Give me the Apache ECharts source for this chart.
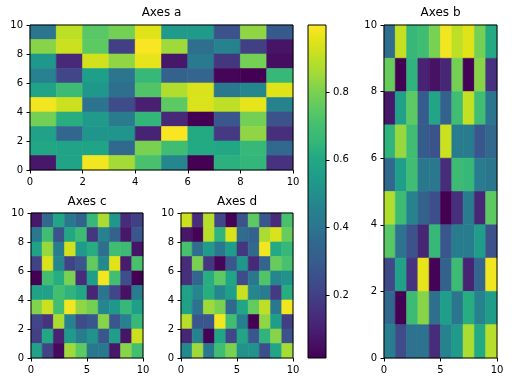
<!DOCTYPE html>
<html>
<head>
<meta charset="utf-8">
<script src="https://cdn.jsdelivr.net/npm/echarts@6/dist/echarts.min.js"></script>
<style>html,body{margin:0;padding:0;background:#fff}#c{width:512px;height:384px}</style>
</head>
<body>
<div id="c"></div>
<script>
// Rows listed from top (y=9) to bottom (y=0)
const dataA = [
  [0.40,0.90,0.74,0.79,0.95,0.54,0.54,0.26,0.83,0.29],
  [0.82,0.92,0.75,0.20,0.99,0.85,0.38,0.46,0.20,0.07],
  [0.53,0.13,0.93,0.83,0.96,0.08,0.42,0.17,0.79,0.05],
  [0.45,0.22,0.56,0.40,0.66,0.33,0.34,0.03,0.01,0.66],
  [0.58,0.68,0.53,0.38,0.73,0.88,0.94,0.41,0.47,0.95],
  [0.98,0.92,0.39,0.24,0.10,0.75,0.94,0.90,0.96,0.46],
  [0.79,0.62,0.54,0.43,0.65,0.13,0.01,0.28,0.79,0.26],
  [0.57,0.35,0.52,0.52,0.11,0.99,0.61,0.18,0.83,0.15],
  [0.60,0.58,0.58,0.36,0.80,0.69,0.61,0.60,0.66,0.36],
  [0.08,0.58,0.98,0.86,0.71,0.47,0.01,0.63,0.65,0.16]
];
const dataB = [
  [0.37,0.91,0.66,0.69,0.80,0.98,0.90,0.95,0.79,0.61],
  [0.77,0.01,0.64,0.11,0.06,0.12,0.79,0.02,0.82,0.16],
  [0.08,0.57,0.75,0.30,0.59,0.32,0.69,0.91,0.69,0.40],
  [0.64,0.84,0.69,0.30,0.26,0.92,0.43,0.43,0.28,0.36],
  [0.36,0.56,0.69,0.41,0.41,0.14,0.68,0.66,0.43,0.40],
  [0.88,0.68,0.46,0.33,0.25,0.01,0.15,0.43,0.12,0.75],
  [0.74,0.39,0.26,0.12,0.66,0.28,0.43,0.43,0.55,0.26],
  [0.23,0.57,0.16,0.96,0.02,0.33,0.68,0.11,0.34,0.98],
  [0.36,0.01,0.68,0.82,0.38,0.56,0.40,0.62,0.46,0.55],
  [0.44,0.24,0.39,0.39,0.14,0.46,0.54,0.87,0.61,0.89]
];
const dataC = [
  [0.08,0.36,0.59,0.41,0.33,0.66,0.87,0.53,0.14,0.20],
  [0.41,0.69,0.26,0.60,0.68,0.17,0.46,0.33,0.08,0.28],
  [0.57,0.84,0.43,0.93,0.54,0.62,0.38,0.69,0.68,0.07],
  [0.21,0.94,0.47,0.21,0.28,0.76,0.48,0.95,0.09,0.71],
  [0.01,0.70,0.62,0.80,0.14,0.56,0.98,0.70,0.25,0.01],
  [0.57,0.57,0.70,0.64,0.60,0.12,0.40,0.22,0.06,0.43],
  [0.81,0.92,0.70,0.98,0.83,0.79,0.47,0.53,0.66,0.56],
  [0.22,0.16,0.87,0.46,0.24,0.28,0.82,0.28,0.45,0.66],
  [0.20,0.60,0.11,0.54,0.43,0.51,0.28,0.56,0.07,0.92],
  [0.57,0.21,0.04,0.85,0.75,0.41,0.41,0.08,0.82,0.70]
];
const dataD = [
  [0.92,0.14,0.89,0.22,0.02,0.26,0.75,0.28,0.14,0.71],
  [0.08,0.02,0.89,0.64,0.94,0.37,0.32,0.87,0.94,0.77],
  [0.71,0.38,0.54,0.41,0.55,0.17,0.36,0.98,0.61,0.66],
  [0.14,0.80,0.17,0.03,0.28,0.53,0.13,0.34,0.77,0.71],
  [0.15,0.34,0.62,0.75,0.59,0.24,0.41,0.73,0.47,0.51],
  [0.57,0.47,0.62,0.47,0.56,0.92,0.47,0.43,0.18,0.62],
  [0.57,0.39,0.85,0.80,0.36,0.59,0.76,0.90,0.41,0.98],
  [0.89,0.28,0.28,0.98,0.69,0.44,0.01,0.83,0.55,0.20],
  [0.12,0.46,0.02,0.59,0.22,0.59,0.28,0.64,0.82,0.26],
  [0.48,0.85,0.41,0.69,0.80,0.51,0.51,0.25,0.59,0.86]
];
const titles = ['Axes a', 'Axes b', 'Axes c', 'Axes d'];
const cbMin = 0.015, cbMax = 0.998;
const cbTicks = [0.2, 0.4, 0.6, 0.8];
const viridis = ['#440154','#471365','#482475','#46337f','#414487','#3b528b','#355f8d','#31688e','#2a788e','#26828e','#21918c','#1f9e89','#22a884','#35b779','#44bf70','#5ec962','#7ad151','#9fda3a','#bddf26','#dfe318','#fde725'];

function toCells(m) {
  const out = [];
  m.forEach((row, r) => row.forEach((v, c) => out.push([c, 9 - r, v])));
  return out;
}
function renderItem(params, api) {
  const x = api.value(0), y = api.value(1);
  const p0 = api.coord([x, y + 1]);
  const p1 = api.coord([x + 1, y]);
  const col = api.visual('color');
  return {type: 'rect', shape: {x: p0[0], y: p0[1], width: p1[0] - p0[0], height: p1[1] - p0[1]},
          style: {fill: col, stroke: col, lineWidth: 0.6}};
}
const grids = [
  {left: 30, top: 25, width: 263, height: 145},
  {left: 384, top: 25, width: 113, height: 333},
  {left: 31, top: 213, width: 112, height: 145},
  {left: 181, top: 213, width: 112, height: 145},
  {left: 308, top: 25, width: 18, height: 333}
].map(g => Object.assign(g, {show: true, z: 5, borderColor: '#000', borderWidth: 1, backgroundColor: 'transparent', containLabel: false}));

const lbl = {color: '#000', fontSize: 10, fontFamily: 'DejaVu Sans'};
const tick = {show: true, inside: false, length: 3.5, lineStyle: {color: '#000', width: 1}};
function vx(gi, interval) {
  return {type: 'value', gridIndex: gi, min: 0, max: 10, interval: interval,
    axisLine: {show: false}, axisTick: tick, splitLine: {show: false},
    axisLabel: Object.assign({margin: 7}, lbl)};
}
function vy(gi) {
  return {type: 'value', gridIndex: gi, min: 0, max: 10, interval: 2,
    axisLine: {show: false}, axisTick: tick, splitLine: {show: false},
    axisLabel: Object.assign({margin: 7}, lbl)};
}
const xAxes = [vx(0, 2), vx(1, 5), vx(2, 5), vx(3, 5),
  {type: 'category', gridIndex: 4, data: ['cb'], show: false, boundaryGap: true}];
const yAxes = [vy(0), vy(1), vy(2), vy(3),
  {type: 'value', gridIndex: 4, position: 'right', min: cbMin, max: cbMax,
   axisLine: {show: false}, splitLine: {show: false},
   axisTick: Object.assign({customValues: cbTicks}, tick),
   axisLabel: Object.assign({margin: 7, customValues: cbTicks, formatter: v => v.toFixed(1)}, lbl)}];

const datasets = [dataA, dataB, dataC, dataD];
const series = datasets.map((d, i) => ({
  type: 'custom', xAxisIndex: i, yAxisIndex: i, renderItem: renderItem,
  encode: {x: 0, y: 1}, data: toCells(d), z: 2, silent: true
}));
series.push({
  type: 'bar', xAxisIndex: 4, yAxisIndex: 4, data: [cbMax], barWidth: '100%', silent: true,
  itemStyle: {color: {type: 'linear', x: 0, y: 1, x2: 0, y2: 0,
    colorStops: viridis.map((c, i) => ({offset: i / (viridis.length - 1), color: c}))}}
});

const titleCenters = [[161.5, 7], [440.5, 7], [87, 196], [237, 196]];
const chart = echarts.init(document.getElementById('c'), null, {renderer: 'canvas'});
chart.setOption({
  animation: false,
  backgroundColor: '#fff',
  textStyle: {fontFamily: 'DejaVu Sans'},
  title: titles.map((t, i) => ({text: t, left: titleCenters[i][0], top: titleCenters[i][1], textAlign: 'center', padding: 0,
    textStyle: {fontSize: 12, fontWeight: 'normal', color: '#000', fontFamily: 'DejaVu Sans'}})),
  grid: grids,
  xAxis: xAxes,
  yAxis: yAxes,
  visualMap: {type: 'continuous', show: false, min: cbMin, max: cbMax, dimension: 2, seriesIndex: [0, 1, 2, 3],
    inRange: {color: viridis}},
  series: series
});
</script>
</body>
</html>
